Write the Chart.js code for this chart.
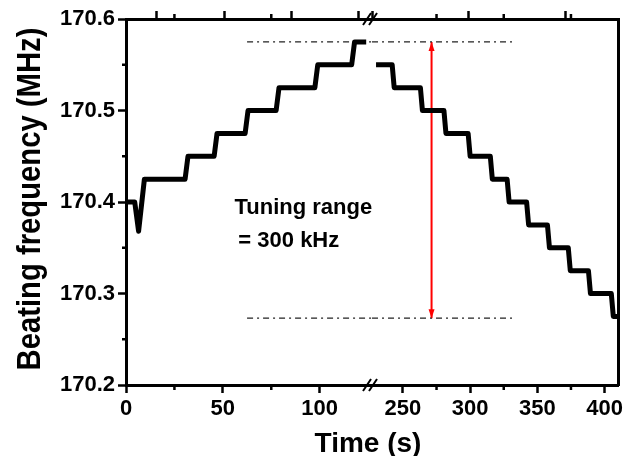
<!DOCTYPE html>
<html>
<head>
<meta charset="utf-8">
<script src="https://cdn.jsdelivr.net/npm/chart.js@4.4.1/dist/chart.umd.min.js"></script>
<style>
  body { margin: 0; background: #fff; }
  canvas { display: block; }
</style>
</head>
<body>
<canvas id="beatChart" width="636" height="456"></canvas>
<script>
// time (s) / beat frequency (MHz)
const timeUp = [0, 4.5, 6.5, 9.5, 30.5, 32, 45.5, 47, 61.5, 63, 77.5, 79, 97.5, 99, 116.5, 118, 124];
const freqUp = [170.4, 170.4, 170.368, 170.425, 170.425, 170.45, 170.45, 170.475, 170.475, 170.5, 170.5, 170.525, 170.525, 170.55, 170.55, 170.575, 170.575];
const timeDown = [230, 242, 243.5, 263, 264.5, 280.5, 282, 298.5, 300, 315, 316.5, 327.5, 329, 342, 343.5, 357.5, 359, 373, 374.5, 388, 389.5, 405, 406.5, 410];
const freqDown = [170.55, 170.55, 170.525, 170.525, 170.5, 170.5, 170.475, 170.475, 170.45, 170.45, 170.425, 170.425, 170.4, 170.4, 170.375, 170.375, 170.35, 170.35, 170.325, 170.325, 170.3, 170.3, 170.275, 170.275];

// tuning range markers
const rangeFreq = [170.575, 170.273];
const rangeTimeLeft = [62.5, 127];
const rangeTimeRight = [227, 332];
const arrowTime = 271.3;

// broken time axis
const leftLimits = [0, 127];
const rightLimits = [227, 410];
const freqLimits = [170.2, 170.6];
const minorLeft = [25, 75];
const minorRight = [275, 325, 375];
const minorFreq = [170.25, 170.35, 170.45, 170.55];

const noteLines = ['Tuning range', '= 300 kHz'];
const noteTime = [56, 58];
const noteFreq = [170.387, 170.351];

const FONT = '"Liberation Sans", Arial, sans-serif';

function toPoints(xs, ys) {
    return xs.map((x, i) => ({ x: x, y: ys[i] }));
}

function stepLine(xs, ys, axisId) {
    return {
        data: toPoints(xs, ys),
        xAxisID: axisId,
        yAxisID: 'y',
        borderColor: '#000',
        borderWidth: 5,
        borderJoinStyle: 'round',
        pointRadius: 0,
        tension: 0
    };
}

function rangeLine(xs, f, axisId) {
    return {
        data: toPoints(xs, [f, f]),
        xAxisID: axisId,
        yAxisID: 'y',
        borderColor: '#222',
        borderWidth: 1.3,
        borderDash: [6, 4, 2, 4],
        pointRadius: 0
    };
}

function timeAxis(limits, pos, showLabels) {
    return {
        type: 'linear',
        axis: 'x',
        position: pos,
        stack: pos,
        stackWeight: 1,
        min: limits[0],
        max: limits[1],
        ticks: {
            display: showLabels,
            stepSize: 50,
            includeBounds: false,
            autoSkip: false,
            maxRotation: 0,
            padding: 3,
            color: '#000',
            font: { family: FONT, size: 22, weight: 'bold' }
        },
        grid: { display: true, drawOnChartArea: false, drawTicks: true, tickLength: 8, tickWidth: 2.5, tickColor: '#000' },
        border: { display: true, color: '#000', width: 3 },
        afterFit: (s) => { s.height = pos === 'bottom' ? 71 : 19; }
    };
}

const datasets = [
    stepLine(timeUp, freqUp, 'x1'),
    stepLine(timeDown, freqDown, 'x2'),
    rangeLine(rangeTimeLeft, rangeFreq[0], 'x1'),
    rangeLine(rangeTimeLeft, rangeFreq[1], 'x1'),
    rangeLine(rangeTimeRight, rangeFreq[0], 'x2'),
    rangeLine(rangeTimeRight, rangeFreq[1], 'x2'),
    {
        data: toPoints([arrowTime, arrowTime], rangeFreq),
        xAxisID: 'x2',
        yAxisID: 'y',
        borderColor: '#f00',
        borderWidth: 2,
        pointRadius: 0
    }
];
const arrowIndex = datasets.length - 1;

// minor ticks, break marks, arrow heads, axis titles and the note
const decorations = {
    id: 'decorations',
    afterDraw(chart) {
        const { ctx, chartArea, scales } = chart;
        ctx.save();
        ctx.strokeStyle = '#000';
        ctx.lineWidth = 2.5;
        ctx.beginPath();
        [[scales.x1, minorLeft], [scales.x2, minorRight]].forEach(([s, vals]) => {
            vals.forEach(v => {
                const px = s.getPixelForValue(v);
                ctx.moveTo(px, chartArea.bottom);
                ctx.lineTo(px, chartArea.bottom + 5);
                ctx.moveTo(px, chartArea.top);
                ctx.lineTo(px, chartArea.top - 5);
            });
        });
        minorFreq.forEach(v => {
            const py = scales.y.getPixelForValue(v);
            ctx.moveTo(chartArea.left, py);
            ctx.lineTo(chartArea.left - 4, py);
        });
        ctx.stroke();

        // axis break "//"
        const xb = scales.x1.right - 2;
        ctx.lineWidth = 2;
        ctx.beginPath();
        [chartArea.top, chartArea.bottom].forEach(yb => {
            [-3, 3].forEach(off => {
                ctx.moveTo(xb + off - 4, yb + 6);
                ctx.lineTo(xb + off + 4, yb - 6);
            });
        });
        ctx.stroke();

        // arrow heads on the red line
        const pts = chart.getDatasetMeta(arrowIndex).data;
        ctx.fillStyle = '#f00';
        pts.forEach((p, i) => {
            const dir = i === 0 ? 1 : -1;
            ctx.beginPath();
            ctx.moveTo(p.x, p.y);
            ctx.lineTo(p.x - 3, p.y + dir * 9);
            ctx.lineTo(p.x + 3, p.y + dir * 9);
            ctx.closePath();
            ctx.fill();
        });

        ctx.fillStyle = '#000';
        ctx.font = 'bold 22px ' + FONT;
        ctx.textAlign = 'left';
        ctx.textBaseline = 'alphabetic';
        noteLines.forEach((t, i) => {
            ctx.fillText(t, scales.x1.getPixelForValue(noteTime[i]), scales.y.getPixelForValue(noteFreq[i]));
        });

        ctx.font = 'bold 28px ' + FONT;
        ctx.textAlign = 'center';
        ctx.fillText('Time (s)', (chartArea.left + chartArea.right) / 2 - 4, chartArea.bottom + 67);

        ctx.translate(31, (chartArea.top + chartArea.bottom) / 2 - 3);
        ctx.rotate(-Math.PI / 2);
        ctx.scale(0.86, 1);
        ctx.font = 'bold 34px ' + FONT;
        ctx.textBaseline = 'middle';
        ctx.fillText('Beating frequency (MHz)', 0, 0);
        ctx.restore();
    }
};

new Chart(document.getElementById('beatChart'), {
    type: 'line',
    data: { datasets: datasets },
    options: {
        responsive: false,
        animation: false,
        layout: { padding: 0 },
        plugins: { legend: { display: false }, tooltip: { enabled: false } },
        scales: {
            x1: timeAxis(leftLimits, 'bottom', true),
            x2: timeAxis(rightLimits, 'bottom', true),
            xt1: timeAxis(leftLimits, 'top', false),
            xt2: timeAxis(rightLimits, 'top', false),
            y: {
                type: 'linear',
                position: 'left',
                min: freqLimits[0],
                max: freqLimits[1],
                ticks: {
                    stepSize: 0.1,
                    padding: 3,
                    color: '#000',
                    font: { family: FONT, size: 22, weight: 'bold' },
                    callback: (v) => v.toFixed(1)
                },
                grid: { display: true, drawOnChartArea: false, drawTicks: true, tickLength: 8, tickWidth: 2.5, tickColor: '#000' },
                border: { display: true, color: '#000', width: 3 },
                afterFit: (s) => { s.width = 126; }
            },
            yr: {
                type: 'linear',
                position: 'right',
                min: freqLimits[0],
                max: freqLimits[1],
                ticks: { display: false },
                grid: { display: false },
                border: { display: true, color: '#000', width: 3 },
                afterFit: (s) => { s.width = 16; }
            }
        }
    },
    plugins: [decorations]
});
</script>
</body>
</html>
